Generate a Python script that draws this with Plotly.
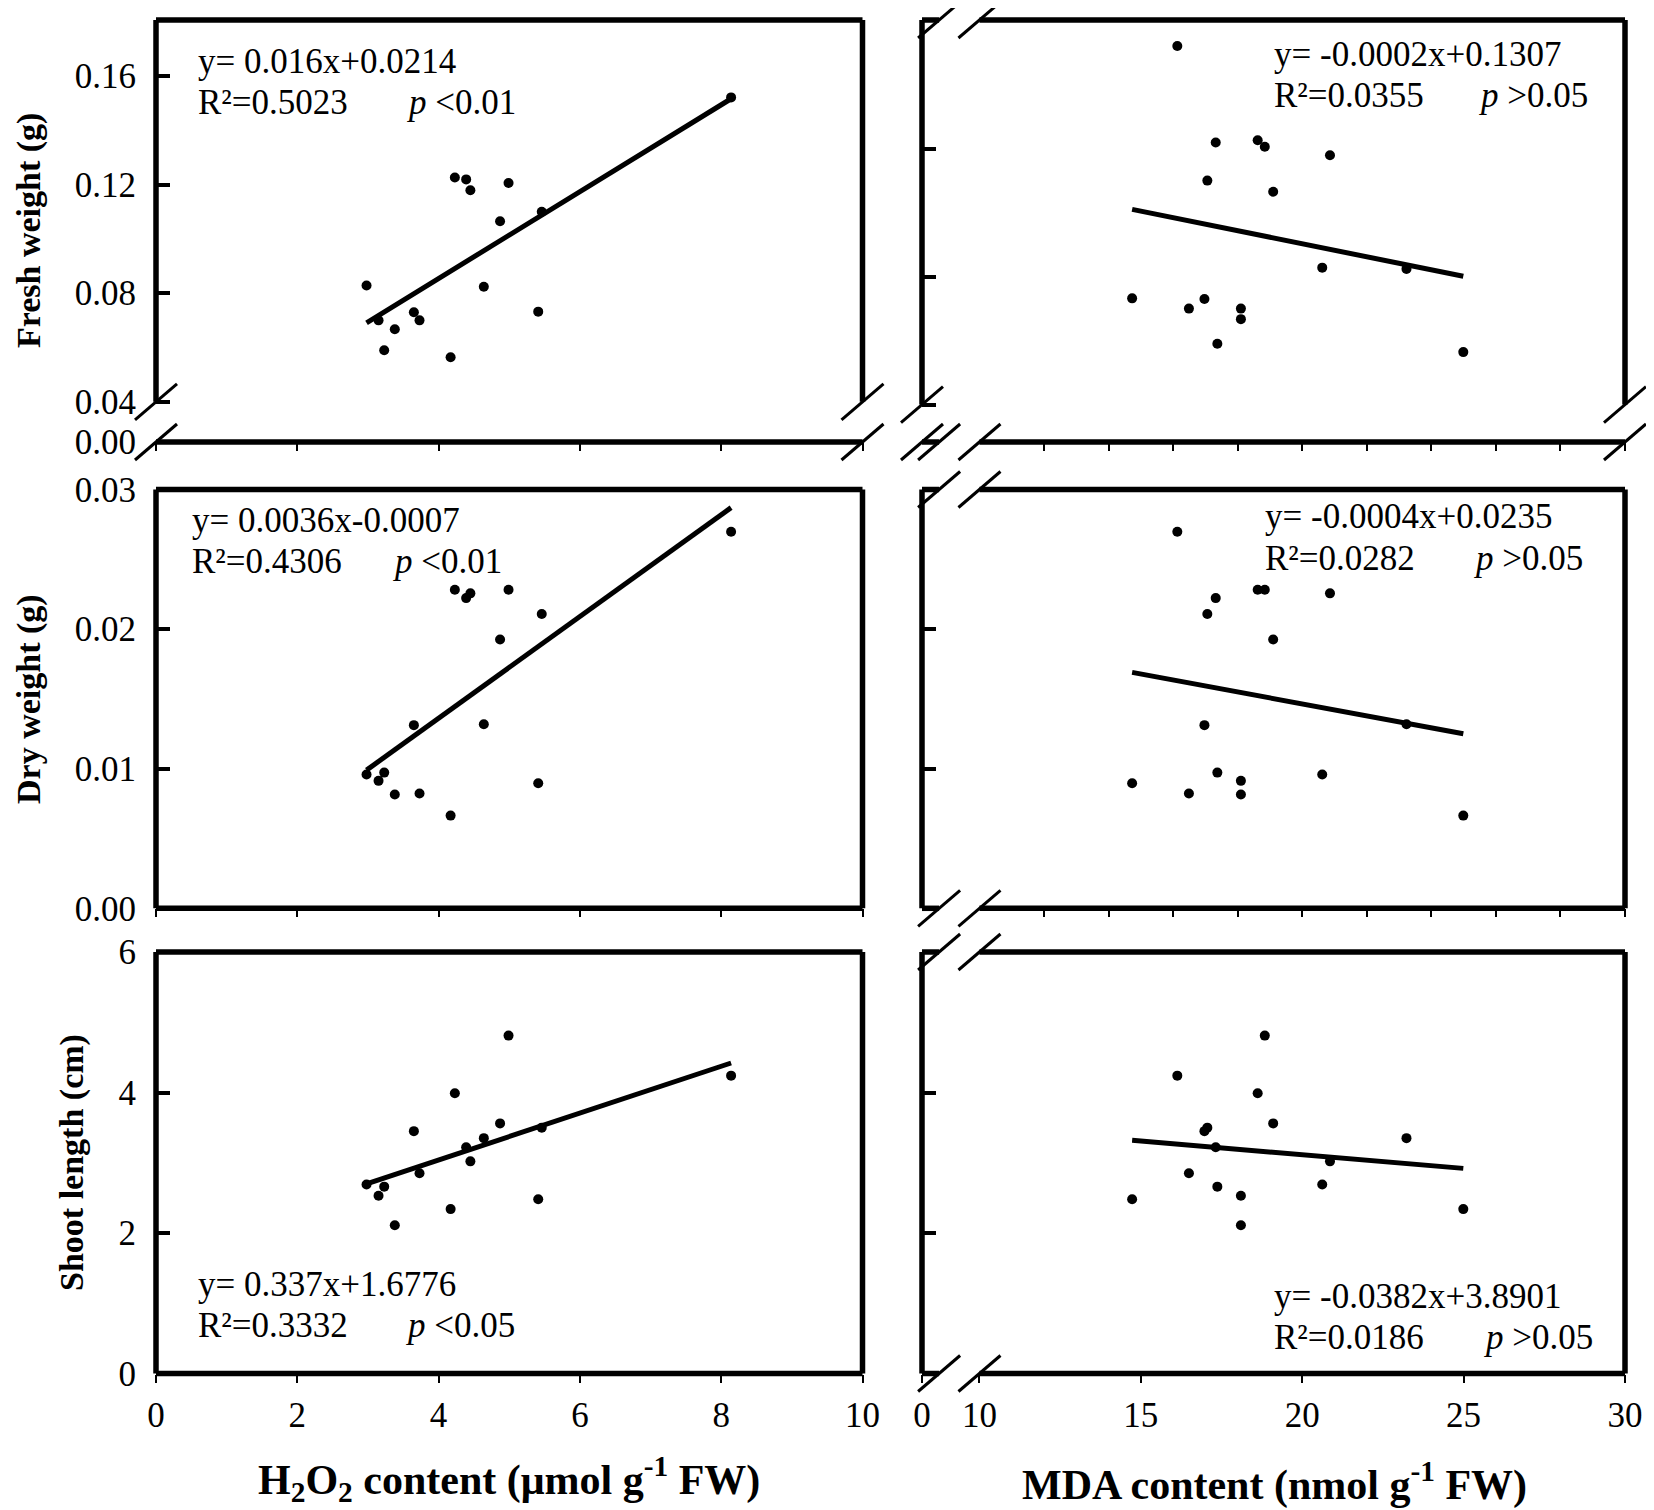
import plotly.graph_objects as go

W, H = 1654, 1510          # browser window
OFF = 8                    # page body margin offset
FW, FH = W - OFF, H - OFF  # figure size
FONT = "Liberation Serif, Times New Roman, serif"

# ---------------- data: 16 samples ----------------
h2o2 = [2.98, 3.15, 3.23, 3.38, 3.65, 3.73, 4.17, 4.23, 4.39, 4.45, 4.64, 4.87, 4.99, 5.41, 5.46, 8.14]
mda = [20.62, 18.10, 17.37, 18.10, 16.97, 16.49, 24.99, 18.62, 17.32, 20.86, 23.23, 19.10, 18.84, 14.73, 17.06, 16.13]
fresh_weight = [0.0828, 0.0700, 0.0590, 0.0667, 0.0730, 0.0700, 0.0564, 0.1226, 0.1219, 0.1179,
                0.0824, 0.1065, 0.1206, 0.0732, 0.1100, 0.1521]
dry_weight = [0.00959, 0.00913, 0.00972, 0.00815, 0.01312, 0.00822, 0.00664, 0.02282, 0.02222, 0.02256,
              0.01319, 0.01926, 0.02282, 0.00896, 0.02108, 0.02697]
shoot_length = [2.69, 2.53, 2.66, 2.11, 3.45, 2.85, 2.34, 3.99, 3.22, 3.02, 3.35, 3.56, 4.81, 2.48, 3.50, 4.24]

# regression lines (end points as drawn)
h2o2_fit = [2.98, 8.14]
mda_fit = [14.73, 24.99]
fw_fit_h2o2 = [0.0691, 0.1516]
dw_fit_h2o2 = [0.0099, 0.0287]
sl_fit_h2o2 = [2.70, 4.42]
fw_fit_mda = [0.1010, 0.0801]
dw_fit_mda = [0.0169, 0.0125]
sl_fit_mda = [3.32, 2.92]

# equation texts
eq_fw_h2o2 = ["y= 0.016x+0.0214", "R²=0.5023", "<i>p</i> &lt;0.01"]
eq_dw_h2o2 = ["y= 0.0036x-0.0007", "R²=0.4306", "<i>p</i> &lt;0.01"]
eq_sl_h2o2 = ["y= 0.337x+1.6776", "R²=0.3332", "<i>p</i> &lt;0.05"]
eq_fw_mda = ["y= -0.0002x+0.1307", "R²=0.0355", "<i>p</i> &gt;0.05"]
eq_dw_mda = ["y= -0.0004x+0.0235", "R²=0.0282", "<i>p</i> &gt;0.05"]
eq_sl_mda = ["y= -0.0382x+3.8901", "R²=0.0186", "<i>p</i> &gt;0.05"]

# ticks
h2o2_ticks = [0, 2, 4, 6, 8, 10]
mda_minor_ticks = [12, 14, 16, 18, 20, 22, 24, 26, 28, 30]
mda_ticks = [10, 15, 20, 25, 30]
fw_ticks = [0.08, 0.12, 0.16]
dw_ticks = [0.0, 0.01, 0.02, 0.03]
sl_ticks = [0, 2, 4, 6]

# axis ranges (broken axes)
h2o2_range = [0, 10]
mda_range = [8.22, 30]
mda_break = [8.75, 10]
fw_range_l = [0.0252, 0.1806]
fw_range_r = [0.0283, 0.1602]
fw_break = 0.04
dw_range = [0, 0.03]
sl_range = [0, 6]


def px(x):
    return (x - OFF) / FW


def py(y):
    return 1 - (y - OFF) / FH


XL_DOM = [px(156), px(862.5)]
XR_DOM = [px(922), px(1625)]
Y_TOP = [py(442), py(20)]
Y_MID = [py(908.3), py(489.5)]
Y_BOT = [py(1373.5), py(952)]

tickfont = dict(family=FONT, size=35, color="black")


def xax(domain, rng, tickvals, anchor, ticktext=None, labels=False):
    d = dict(domain=domain, range=rng, anchor=anchor, tickmode="array", tickvals=tickvals,
             ticks="outside", ticklen=8, tickwidth=2, tickcolor="black", automargin=False,
             showgrid=False, zeroline=False, showline=False, showticklabels=labels,
             tickfont=tickfont, ticklabelstandoff=2, fixedrange=True)
    if ticktext is not None:
        d["ticktext"] = ticktext
    return d


def yax(domain, rng, tickvals, anchor, ticktext=None, labels=True):
    d = dict(domain=domain, range=rng, anchor=anchor, tickmode="array", tickvals=tickvals,
             ticks="inside", ticklen=14, tickwidth=4, tickcolor="black", automargin=False,
             showgrid=False, zeroline=False, showline=False, showticklabels=labels,
             tickfont=tickfont, ticklabelstandoff=19, fixedrange=True)
    if ticktext is not None:
        d["ticktext"] = ticktext
    return d


fig = go.Figure()

panels = [
    ("x", "y", h2o2, fresh_weight, h2o2_fit, fw_fit_h2o2),
    ("x2", "y2", mda, fresh_weight, mda_fit, fw_fit_mda),
    ("x3", "y3", h2o2, dry_weight, h2o2_fit, dw_fit_h2o2),
    ("x4", "y4", mda, dry_weight, mda_fit, dw_fit_mda),
    ("x5", "y5", h2o2, shoot_length, h2o2_fit, sl_fit_h2o2),
    ("x6", "y6", mda, shoot_length, mda_fit, sl_fit_mda),
]
for xa, ya, xs, ys, fx_, fy_ in panels:
    fig.add_trace(go.Scatter(x=fx_, y=fy_, xaxis=xa, yaxis=ya, mode="lines",
                             line=dict(color="black", width=5), hoverinfo="skip"))
    fig.add_trace(go.Scatter(x=xs, y=ys, xaxis=xa, yaxis=ya, mode="markers",
                             marker=dict(color="black", size=10), hoverinfo="skip"))

fw_text = ["0.00", "0.04"] + ["%.2f" % v for v in fw_ticks]
layout = dict(
    xaxis=xax(XL_DOM, h2o2_range, h2o2_ticks, "y"),
    yaxis=yax(Y_TOP, fw_range_l, [fw_range_l[0], fw_break] + fw_ticks, "x", ticktext=fw_text),
    xaxis2=xax(XR_DOM, mda_range, mda_minor_ticks, "y2"),
    yaxis2=yax(Y_TOP, fw_range_r, [fw_break] + fw_ticks, "x2", labels=False),
    xaxis3=xax(XL_DOM, h2o2_range, h2o2_ticks, "y3"),
    yaxis3=yax(Y_MID, dw_range, dw_ticks, "x3", ticktext=["%.2f" % v for v in dw_ticks]),
    xaxis4=xax(XR_DOM, mda_range, mda_minor_ticks, "y4"),
    yaxis4=yax(Y_MID, dw_range, dw_ticks, "x4", labels=False),
    xaxis5=xax(XL_DOM, h2o2_range, h2o2_ticks, "y5", ticktext=[str(v) for v in h2o2_ticks], labels=True),
    yaxis5=yax(Y_BOT, sl_range, sl_ticks, "x5", ticktext=[str(v) for v in sl_ticks]),
    xaxis6=xax(XR_DOM, mda_range, [mda_range[0]] + mda_ticks, "y6",
               ticktext=["0"] + [str(v) for v in mda_ticks], labels=True),
    yaxis6=yax(Y_BOT, sl_range, sl_ticks, "x6", labels=False),
)

shapes = []
FR = 5.5


def seg(ax, x0, y0, x1, y1, w=FR):
    shapes.append(dict(type="line", xref=ax[0] + " domain", yref=ax[1] + " domain",
                       x0=x0, y0=y0, x1=x1, y1=y1, line=dict(color="black", width=w), layer="above"))


def slash(ax, xa, ya):
    shapes.append(dict(type="line", xref=ax[0] + " domain", yref=ax[1] + " domain",
                       xsizemode="pixel", ysizemode="pixel", xanchor=xa, yanchor=ya,
                       x0=-21, x1=21, y0=-18, y1=18, line=dict(color="black", width=3), layer="above"))


def frac(v, rng):
    return (v - rng[0]) / (rng[1] - rng[0])


# top-left: y break
ax = ("x", "y")
yb = frac(fw_break, fw_range_l)
seg(ax, 0, 1, 1, 1)
seg(ax, 0, 0, 1, 0)
seg(ax, 0, yb, 0, 1)
seg(ax, 1, yb, 1, 1)
for xa in (0, 1):
    slash(ax, xa, yb)
    slash(ax, xa, 0)

# left middle / bottom: full box
for ax in (("x3", "y3"), ("x5", "y5")):
    seg(ax, 0, 1, 1, 1)
    seg(ax, 0, 0, 1, 0)
    seg(ax, 0, 0, 0, 1)
    seg(ax, 1, 0, 1, 1)

# right column: x break
b0 = frac(mda_break[0], mda_range)
b1 = frac(mda_break[1], mda_range)
for ax in (("x2", "y2"), ("x4", "y4"), ("x6", "y6")):
    for yy in (0, 1):
        seg(ax, 0, yy, b0, yy)
        seg(ax, b1, yy, 1, yy)
        slash(ax, b0, yy)
        slash(ax, b1, yy)
    ylo = frac(fw_break, fw_range_r) if ax[0] == "x2" else 0
    seg(ax, 0, ylo, 0, 1)
    seg(ax, 1, ylo, 1, 1)
    if ax[0] == "x2":
        for xa in (0, 1):
            slash(ax, xa, ylo)
            slash(ax, xa, 0)

annotations = []


def txt(text, x, y, size=35, xanchor="left", angle=0):
    annotations.append(dict(text=text, x=px(x), y=py(y), xref="paper", yref="paper",
                            xanchor=xanchor, yanchor="middle", showarrow=False, textangle=angle,
                            font=dict(family=FONT, size=size, color="black")))


def eq(lines, x, y1, y2, xp):
    txt(lines[0], x, y1)
    txt(lines[1], x, y2)
    txt(lines[2], xp, y2)


eq(eq_fw_h2o2, 196, 61, 102, 404)
eq(eq_fw_mda, 1272, 55, 96, 1476)
eq(eq_dw_h2o2, 190, 520, 561, 390)
eq(eq_dw_mda, 1263, 517, 558, 1471)
eq(eq_sl_h2o2, 196, 1284, 1325, 403)
eq(eq_sl_mda, 1272, 1296, 1337, 1481)

txt("<b>Fresh weight (g)</b>", 29, 231, size=34, xanchor="center", angle=-90)
txt("<b>Dry weight (g)</b>", 29, 699, size=34, xanchor="center", angle=-90)
txt("<b>Shoot length (cm)</b>", 72, 1163, size=34, xanchor="center", angle=-90)
txt("<b>H<sub>2</sub>O<sub>2</sub> content (μmol g<sup>-1</sup> FW)</b>", 509, 1479, size=42, xanchor="center")
txt("<b>MDA content (nmol g<sup>-1</sup> FW)</b>", 1274, 1482, size=42, xanchor="center")

fig.update_layout(**layout)
fig.update_layout(template="none", width=FW, height=FH, margin=dict(l=0, r=0, t=0, b=0, pad=0),
                  paper_bgcolor="white", plot_bgcolor="white", showlegend=False,
                  shapes=shapes, annotations=annotations)

fig.write_html("out.html")
